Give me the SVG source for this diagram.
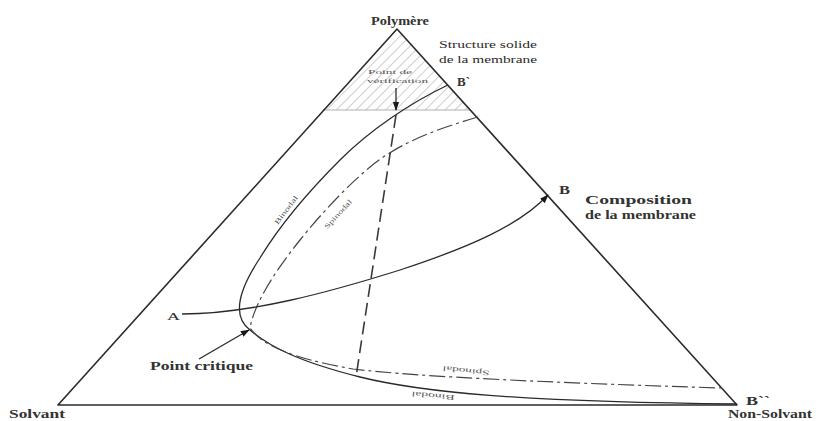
<svg xmlns="http://www.w3.org/2000/svg" width="828" height="421" viewBox="0 0 828 421">
  <style>
    .edge { fill: none; stroke: #2b2b2b; stroke-width: 1.6; stroke-linejoin: round; }
    .curve { fill: none; stroke: #2b2b2b; stroke-width: 1.3; }
    .spin { fill: none; stroke: #444; stroke-width: 1.2; stroke-dasharray: 16 4 3 4; }
    .dash { fill: none; stroke: #3a3a3a; stroke-width: 1.6; stroke-dasharray: 13 6; }
    .serif { font-family: "Liberation Serif", "DejaVu Serif", serif; fill: #2b2b2b; }
    .bold { font-weight: bold; fill: #333; }
    .small { font-family: "Liberation Serif", "DejaVu Serif", serif; fill: #555; font-size: 7px; }
  </style>
  <defs>
    <pattern id="hatch" patternUnits="userSpaceOnUse" width="7" height="7" patternTransform="rotate(45)">
      <line x1="0" y1="0" x2="0" y2="7" stroke="#a0a0a0" stroke-width="1"/>
    </pattern>
    <marker id="ah" viewBox="0 0 10 10" refX="9" refY="5" markerWidth="7" markerHeight="7" orient="auto">
      <path d="M0,1.5 L10,5 L0,8.5 Z" fill="#1a1a1a"/>
    </marker>
  </defs>

  <rect width="828" height="421" fill="#ffffff"/>

  <g id="solid-zone">
    <polygon points="397,29 323,110 471,110" fill="url(#hatch)"/>
    <line x1="323" y1="110" x2="471" y2="110" stroke="#b0b0b0" stroke-width="1"/>
  </g>

  <g id="triangle">
    <polygon class="edge" points="397,29 58,405 737,405"/>
  </g>

  <g id="curves">
    <path id="binodal" class="curve" d="M448,85 C410,103 370,130 340,160 C310,190 280,225 260,258 C242,285 230,315 250,330 C270,347 300,362 360,377 C420,392 520,402 737,404"/>
    <path id="spinodal" class="spin" d="M478,117 C440,128 400,142 370,167 C345,188 320,215 300,240 C280,265 255,300 250,328 C262,345 290,358 353,369 C420,377 560,383 722,388"/>
  </g>

  <g id="connectors">
    <line class="curve" x1="396" y1="88" x2="396" y2="110" marker-end="url(#ah)"/>
    <line class="dash" x1="396" y1="115" x2="356" y2="377"/>
    <path class="curve" d="M182,314 C250,314 330,292 400,270 C470,247 520,225 548,195" marker-end="url(#ah)"/>
    <line class="curve" x1="199" y1="359" x2="249" y2="330" marker-end="url(#ah)"/>
  </g>

  <g id="vertex-labels">
    <text class="serif bold" x="371" y="25" font-size="12" textLength="58" lengthAdjust="spacingAndGlyphs">Polymère</text>
    <text class="serif bold" x="9" y="418" font-size="12" textLength="56" lengthAdjust="spacingAndGlyphs">Solvant</text>
    <text class="serif bold" x="728" y="418" font-size="12" textLength="84" lengthAdjust="spacingAndGlyphs">Non-Solvant</text>
  </g>

  <g id="point-labels">
    <text class="serif bold" x="457" y="86" font-size="12" textLength="13" lengthAdjust="spacingAndGlyphs">B`</text>
    <text class="serif bold" x="559" y="194" font-size="12" textLength="11" lengthAdjust="spacingAndGlyphs">B</text>
    <text class="serif bold" x="746" y="405" font-size="12" textLength="24" lengthAdjust="spacingAndGlyphs">B``</text>
    <text class="serif" x="167" y="320" font-size="11" textLength="13" lengthAdjust="spacingAndGlyphs">A</text>
  </g>

  <g id="annotations">
    <text class="serif" x="439" y="48" font-size="11" textLength="98" lengthAdjust="spacingAndGlyphs">Structure solide</text>
    <text class="serif" x="439" y="63" font-size="11" textLength="98" lengthAdjust="spacingAndGlyphs">de la membrane</text>
    <text class="small" x="368" y="74" font-size="8" textLength="44" lengthAdjust="spacingAndGlyphs">Point de</text>
    <text class="small" x="367" y="83" font-size="8" textLength="61" lengthAdjust="spacingAndGlyphs">vérification</text>
    <text class="serif bold" x="585" y="204" font-size="13" textLength="107" lengthAdjust="spacingAndGlyphs">Composition</text>
    <text class="serif bold" x="585" y="219" font-size="13" textLength="111" lengthAdjust="spacingAndGlyphs">de la membrane</text>
    <text class="serif bold" x="150" y="370" font-size="12" textLength="103" lengthAdjust="spacingAndGlyphs">Point critique</text>
    <text class="small" transform="translate(286,210) rotate(-53)" text-anchor="middle" y="2.5" textLength="34" lengthAdjust="spacingAndGlyphs">Binodal</text>
    <text class="small" transform="translate(338,214) rotate(-47)" text-anchor="middle" y="2.5" textLength="37" lengthAdjust="spacingAndGlyphs">Spinodal</text>
    <text class="small" transform="translate(466,371) rotate(186)" text-anchor="middle" y="2.5" textLength="47" lengthAdjust="spacingAndGlyphs">Spinodal</text>
    <text class="small" transform="translate(433,396) rotate(185)" text-anchor="middle" y="2.5" textLength="43" lengthAdjust="spacingAndGlyphs">Binodal</text>
  </g>
</svg>
